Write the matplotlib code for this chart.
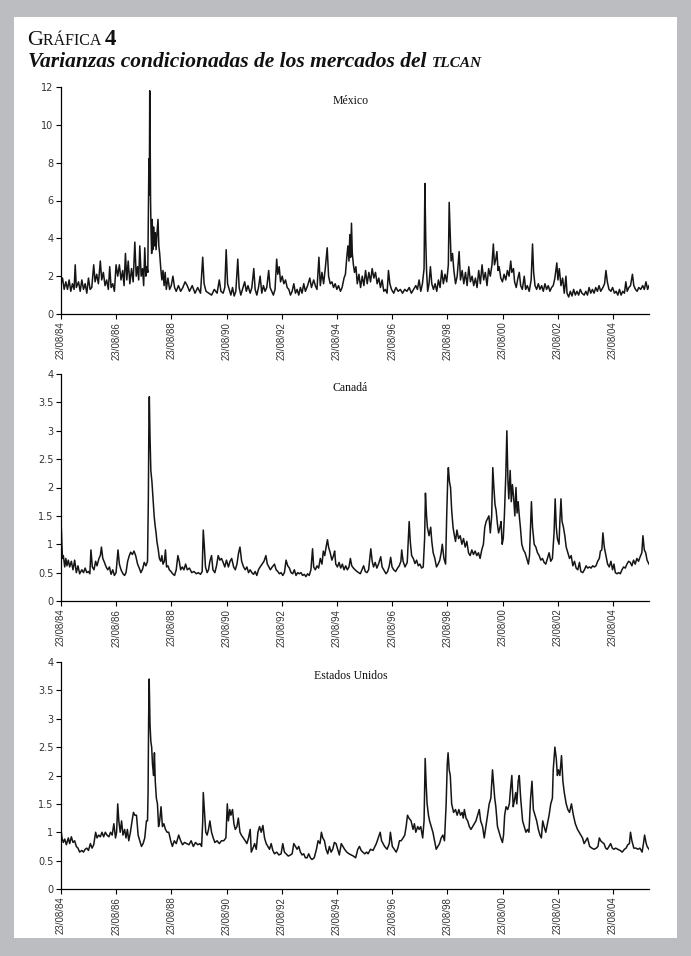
import matplotlib
matplotlib.use("Agg")
import matplotlib.pyplot as plt
from matplotlib.patches import Rectangle

# ---- data (decimal years, conditional variance) ----
mx_t = [1984.645, 1984.70, 1984.76, 1984.82, 1984.88, 1984.94, 1985.00, 1985.06, 1985.12, 1985.16,
        1985.20, 1985.28, 1985.34, 1985.40, 1985.46, 1985.52, 1985.58, 1985.64, 1985.70, 1985.76,
        1985.83, 1985.88, 1985.94, 1986.00, 1986.07, 1986.12, 1986.18, 1986.24, 1986.30, 1986.36,
        1986.41, 1986.46, 1986.52, 1986.58, 1986.64, 1986.70, 1986.76, 1986.82, 1986.88, 1986.93,
        1986.98, 1987.03, 1987.08, 1987.14, 1987.20, 1987.26, 1987.32, 1987.37, 1987.42, 1987.46,
        1987.50, 1987.55, 1987.60, 1987.64, 1987.68, 1987.72, 1987.76, 1987.79, 1987.81, 1987.83,
        1987.845, 1987.86, 1987.875, 1987.89, 1987.91, 1987.93, 1987.95, 1987.97, 1988.00, 1988.03,
        1988.06, 1988.09, 1988.12, 1988.16, 1988.19, 1988.22, 1988.26, 1988.30, 1988.34, 1988.38,
        1988.42, 1988.46, 1988.52, 1988.58, 1988.64, 1988.70, 1988.76, 1988.82, 1988.90, 1988.98,
        1989.06, 1989.14, 1989.22, 1989.30, 1989.40, 1989.50, 1989.60, 1989.70, 1989.78, 1989.83,
        1989.90, 1990.00, 1990.10, 1990.20, 1990.30, 1990.38, 1990.44, 1990.52, 1990.58, 1990.63,
        1990.68, 1990.74, 1990.80, 1990.86, 1990.92, 1990.98, 1991.05, 1991.10, 1991.16, 1991.22,
        1991.30, 1991.36, 1991.42, 1991.50, 1991.56, 1991.63, 1991.68, 1991.74, 1991.80, 1991.86,
        1991.92, 1991.98, 1992.04, 1992.10, 1992.17, 1992.22, 1992.28, 1992.34, 1992.40, 1992.46,
        1992.50, 1992.55, 1992.60, 1992.66, 1992.72, 1992.78, 1992.84, 1992.90, 1992.96, 1993.02,
        1993.08, 1993.14, 1993.20, 1993.26, 1993.32, 1993.38, 1993.44, 1993.50, 1993.58, 1993.66,
        1993.72, 1993.80, 1993.86, 1993.92, 1993.99, 1994.04, 1994.10, 1994.16, 1994.22, 1994.29,
        1994.34, 1994.40, 1994.46, 1994.52, 1994.58, 1994.64, 1994.70, 1994.77, 1994.83, 1994.90,
        1994.95, 1995.00, 1995.04, 1995.08, 1995.11, 1995.14, 1995.17, 1995.20, 1995.24, 1995.28,
        1995.33, 1995.38, 1995.44, 1995.50, 1995.56, 1995.62, 1995.68, 1995.74, 1995.80, 1995.86,
        1995.92, 1995.98, 1996.04, 1996.10, 1996.16, 1996.22, 1996.28, 1996.34, 1996.40, 1996.46,
        1996.51, 1996.56, 1996.62, 1996.70, 1996.78, 1996.86, 1996.94, 1997.02, 1997.10, 1997.18,
        1997.26, 1997.34, 1997.42, 1997.50, 1997.56, 1997.62, 1997.68, 1997.74, 1997.80, 1997.83,
        1997.86, 1997.89, 1997.93, 1997.98, 1998.03, 1998.08, 1998.14, 1998.20, 1998.26, 1998.32,
        1998.38, 1998.44, 1998.50, 1998.56, 1998.62, 1998.68, 1998.71, 1998.74, 1998.78, 1998.83,
        1998.88, 1998.94, 1999.00, 1999.07, 1999.12, 1999.18, 1999.24, 1999.30, 1999.36, 1999.42,
        1999.48, 1999.54, 1999.60, 1999.66, 1999.72, 1999.78, 1999.84, 1999.90, 1999.96, 2000.02,
        2000.08, 2000.14, 2000.20, 2000.26, 2000.31, 2000.35, 2000.40, 2000.44, 2000.48, 2000.52,
        2000.58, 2000.64, 2000.70, 2000.76, 2000.82, 2000.88, 2000.94, 2000.98, 2001.04, 2001.08,
        2001.14, 2001.20, 2001.25, 2001.30, 2001.36, 2001.43, 2001.48, 2001.54, 2001.61, 2001.68,
        2001.73, 2001.77, 2001.82, 2001.88, 2001.94, 2002.00, 2002.06, 2002.12, 2002.18, 2002.24,
        2002.30, 2002.36, 2002.42, 2002.48, 2002.54, 2002.61, 2002.65, 2002.70, 2002.76, 2002.82,
        2002.88, 2002.94, 2002.98, 2003.04, 2003.10, 2003.16, 2003.22, 2003.28, 2003.34, 2003.40,
        2003.46, 2003.52, 2003.60, 2003.66, 2003.72, 2003.78, 2003.84, 2003.90, 2003.96, 2004.02,
        2004.08, 2004.14, 2004.20, 2004.28, 2004.34, 2004.39, 2004.44, 2004.50, 2004.57, 2004.63,
        2004.70, 2004.76, 2004.82, 2004.88, 2004.94, 2005.00, 2005.06, 2005.11, 2005.16, 2005.22,
        2005.28, 2005.35, 2005.40, 2005.46, 2005.52, 2005.58, 2005.65, 2005.72, 2005.78, 2005.84,
        2005.90, 2005.95]
mx_v = [1.6, 1.9, 1.3, 1.7, 1.3, 1.8, 1.2, 1.6, 1.3, 2.6,
        1.4, 1.7, 1.2, 1.8, 1.3, 1.6, 1.1, 1.9, 1.3, 1.4,
        2.6, 1.7, 2.1, 1.6, 2.8, 1.8, 2.2, 1.5, 1.8, 1.3,
        2.5, 1.4, 1.6, 1.2, 2.6, 2.0, 2.6, 1.8, 2.3, 1.5,
        3.2, 1.8, 2.8, 1.6, 2.4, 1.7, 3.8, 2.0, 2.5, 1.8,
        3.6, 2.0, 2.4, 1.5, 3.5, 2.0, 2.5, 2.2, 5.2, 8.2,
        6.3, 11.8, 9.5, 6.0, 4.2, 3.2, 5.0, 3.4, 4.6, 3.6,
        4.3, 3.4, 4.2, 5.0, 3.6, 3.2, 2.4, 1.8, 2.3, 1.5,
        2.2, 1.3, 1.9, 1.3, 1.5, 2.0, 1.4, 1.2, 1.5, 1.2,
        1.4, 1.7, 1.5, 1.2, 1.5, 1.1, 1.4, 1.1, 3.0, 1.6,
        1.2, 1.1, 1.0, 1.3, 1.1, 1.8, 1.2, 1.1, 1.4, 3.4,
        1.6, 1.3, 1.0, 1.4, 0.95, 1.2, 2.9, 1.4, 1.0, 1.3,
        1.7, 1.2, 1.5, 1.1, 1.4, 2.4, 1.3, 1.0, 1.4, 2.0,
        1.1, 1.5, 1.2, 1.4, 2.3, 1.4, 1.2, 1.0, 1.3, 2.9,
        2.1, 2.5, 1.7, 2.0, 1.6, 1.8, 1.4, 1.3, 1.0, 1.2,
        1.6, 1.1, 1.3, 1.0, 1.4, 1.1, 1.6, 1.2, 1.5, 1.9,
        1.4, 1.8, 1.5, 1.3, 3.0, 1.5, 2.2, 1.6, 2.4, 3.5,
        2.0, 1.6, 1.7, 1.4, 1.6, 1.3, 1.5, 1.2, 1.4, 1.9,
        2.1, 3.0, 3.6, 2.8, 4.2, 3.0, 4.8, 3.2, 2.6, 2.2,
        2.5, 1.6, 2.1, 1.4, 2.0, 1.5, 2.3, 1.6, 2.2, 1.7,
        2.4, 1.9, 2.2, 1.6, 1.9, 1.4, 1.8, 1.2, 1.3, 1.1,
        2.3, 1.6, 1.3, 1.1, 1.4, 1.2, 1.3, 1.1, 1.3, 1.2,
        1.4, 1.1, 1.3, 1.5, 1.3, 1.8, 1.2, 1.6, 2.4, 6.9,
        4.0, 2.3, 1.2, 1.6, 2.5, 1.6, 1.3, 1.6, 1.2, 1.8,
        1.4, 2.3, 1.6, 2.1, 1.7, 2.6, 5.9, 4.6, 2.8, 3.2,
        2.3, 1.6, 2.0, 3.3, 1.8, 2.3, 1.6, 2.2, 1.5, 2.5,
        1.7, 2.0, 1.5, 1.9, 1.4, 2.3, 1.6, 2.6, 1.8, 2.2,
        1.5, 2.4, 2.0, 2.6, 3.7, 2.6, 2.9, 3.3, 2.3, 2.5,
        1.9, 1.7, 2.1, 1.8, 2.3, 2.0, 2.8, 2.2, 2.4, 1.7,
        1.4, 1.9, 2.2, 1.5, 1.3, 2.0, 1.3, 1.5, 1.2, 1.8,
        3.7, 2.2, 1.5, 1.3, 1.6, 1.3, 1.5, 1.2, 1.6, 1.3,
        1.5, 1.2, 1.4, 1.5, 1.9, 2.7, 1.8, 2.4, 1.5, 1.9,
        1.1, 2.0, 1.1, 0.9, 1.2, 0.95, 1.3, 1.0, 1.2, 1.0,
        1.3, 1.1, 1.0, 1.2, 1.0, 1.4, 1.1, 1.3, 1.1, 1.4,
        1.2, 1.5, 1.2, 1.4, 1.6, 2.3, 1.7, 1.3, 1.2, 1.4,
        1.1, 1.2, 1.0, 1.3, 1.0, 1.2, 1.1, 1.7, 1.2, 1.4,
        1.5, 2.1, 1.5, 1.3, 1.2, 1.4, 1.3, 1.5, 1.3, 1.7,
        1.3, 1.5]

ca_t = [1984.645, 1984.66, 1984.68, 1984.70, 1984.73, 1984.78, 1984.82, 1984.86, 1984.91, 1984.96,
        1985.02, 1985.08, 1985.14, 1985.20, 1985.26, 1985.32, 1985.40, 1985.46, 1985.52, 1985.58,
        1985.64, 1985.69, 1985.73, 1985.78, 1985.84, 1985.90, 1985.95, 1986.02, 1986.07, 1986.11,
        1986.16, 1986.22, 1986.28, 1986.34, 1986.40, 1986.46, 1986.52, 1986.58, 1986.64, 1986.71,
        1986.76, 1986.82, 1986.89, 1986.95, 1987.00, 1987.06, 1987.12, 1987.17, 1987.23, 1987.29,
        1987.35, 1987.42, 1987.48, 1987.54, 1987.60, 1987.66, 1987.72, 1987.78, 1987.81, 1987.83,
        1987.845, 1987.87, 1987.90, 1987.94, 1987.98, 1988.02, 1988.05, 1988.09, 1988.12, 1988.17,
        1988.21, 1988.26, 1988.30, 1988.34, 1988.39, 1988.43, 1988.47, 1988.52, 1988.57, 1988.63,
        1988.69, 1988.76, 1988.82, 1988.88, 1988.93, 1988.98, 1989.04, 1989.10, 1989.16, 1989.22,
        1989.30, 1989.38, 1989.46, 1989.55, 1989.62, 1989.70, 1989.76, 1989.80, 1989.84, 1989.88,
        1989.94, 1989.99, 1990.04, 1990.10, 1990.15, 1990.22, 1990.28, 1990.34, 1990.40, 1990.46,
        1990.52, 1990.58, 1990.64, 1990.71, 1990.77, 1990.83, 1990.90, 1990.96, 1991.02, 1991.08,
        1991.13, 1991.19, 1991.26, 1991.32, 1991.38, 1991.44, 1991.50, 1991.56, 1991.62, 1991.68,
        1991.74, 1991.80, 1991.86, 1991.93, 1992.00, 1992.07, 1992.12, 1992.18, 1992.23, 1992.30,
        1992.38, 1992.44, 1992.50, 1992.56, 1992.62, 1992.68, 1992.74, 1992.80, 1992.86, 1992.92,
        1992.98, 1993.04, 1993.10, 1993.16, 1993.22, 1993.28, 1993.34, 1993.40, 1993.46, 1993.52,
        1993.58, 1993.64, 1993.70, 1993.76, 1993.80, 1993.86, 1993.92, 1993.98, 1994.04, 1994.10,
        1994.15, 1994.20, 1994.25, 1994.30, 1994.34, 1994.40, 1994.46, 1994.52, 1994.56, 1994.60,
        1994.66, 1994.72, 1994.78, 1994.84, 1994.90, 1994.96, 1995.02, 1995.08, 1995.13, 1995.18,
        1995.24, 1995.30, 1995.37, 1995.43, 1995.49, 1995.55, 1995.61, 1995.67, 1995.73, 1995.79,
        1995.87, 1995.92, 1995.97, 1996.03, 1996.09, 1996.15, 1996.23, 1996.28, 1996.34, 1996.42,
        1996.48, 1996.54, 1996.59, 1996.64, 1996.70, 1996.77, 1996.84, 1996.90, 1996.96, 1996.99,
        1997.04, 1997.11, 1997.19, 1997.26, 1997.30, 1997.35, 1997.41, 1997.47, 1997.53, 1997.59,
        1997.65, 1997.71, 1997.77, 1997.82, 1997.85, 1997.89, 1997.92, 1997.98, 1998.04, 1998.08,
        1998.13, 1998.19, 1998.25, 1998.31, 1998.37, 1998.42, 1998.46, 1998.52, 1998.58, 1998.62,
        1998.66, 1998.68, 1998.72, 1998.76, 1998.80, 1998.85, 1998.90, 1998.94, 1998.99, 1999.05,
        1999.11, 1999.17, 1999.23, 1999.29, 1999.35, 1999.41, 1999.47, 1999.53, 1999.59, 1999.65,
        1999.71, 1999.77, 1999.83, 1999.89, 1999.95, 2000.00, 2000.05, 2000.10, 2000.15, 2000.20,
        2000.25, 2000.29, 2000.33, 2000.37, 2000.41, 2000.46, 2000.50, 2000.55, 2000.59, 2000.63,
        2000.67, 2000.71, 2000.76, 2000.80, 2000.84, 2000.87, 2000.92, 2000.96, 2001.00, 2001.04,
        2001.09, 2001.13, 2001.17, 2001.21, 2001.25, 2001.29, 2001.34, 2001.40, 2001.46, 2001.52,
        2001.58, 2001.62, 2001.69, 2001.73, 2001.79, 2001.85, 2001.91, 2001.97, 2002.03, 2002.09,
        2002.15, 2002.21, 2002.27, 2002.33, 2002.39, 2002.45, 2002.51, 2002.55, 2002.59, 2002.63,
        2002.69, 2002.72, 2002.76, 2002.80, 2002.85, 2002.90, 2002.95, 2003.01, 2003.07, 2003.13,
        2003.19, 2003.25, 2003.31, 2003.37, 2003.43, 2003.48, 2003.55, 2003.61, 2003.67, 2003.73,
        2003.79, 2003.85, 2003.91, 2003.97, 2004.03, 2004.09, 2004.15, 2004.19, 2004.24, 2004.28,
        2004.33, 2004.39, 2004.45, 2004.51, 2004.57, 2004.63, 2004.68, 2004.73, 2004.79, 2004.85,
        2004.91, 2004.97, 2005.03, 2005.09, 2005.15, 2005.21, 2005.27, 2005.33, 2005.39, 2005.45,
        2005.51, 2005.57, 2005.63, 2005.69, 2005.73, 2005.78, 2005.83, 2005.88, 2005.95]
ca_v = [1.4, 1.25, 0.95, 0.75, 0.8, 0.6, 0.75, 0.62, 0.72, 0.6,
        0.7, 0.55, 0.72, 0.5, 0.62, 0.48, 0.55, 0.5, 0.58, 0.5,
        0.52, 0.48, 0.9, 0.6, 0.55, 0.7, 0.62, 0.75, 0.8, 0.95,
        0.75, 0.68, 0.6, 0.55, 0.6, 0.47, 0.55, 0.45, 0.5, 0.9,
        0.65, 0.55, 0.48, 0.45, 0.5, 0.7, 0.8, 0.86, 0.82, 0.88,
        0.8, 0.65, 0.58, 0.5, 0.56, 0.68, 0.62, 0.7, 1.8, 3.2,
        3.6, 2.9, 2.3, 2.1, 1.8, 1.5, 1.35, 1.2, 1.05, 0.9,
        0.75, 0.7, 0.8, 0.65, 0.7, 0.9, 0.6, 0.62, 0.55, 0.52,
        0.48, 0.45, 0.55, 0.8, 0.7, 0.55, 0.6, 0.55, 0.65, 0.55,
        0.58, 0.5, 0.52, 0.48, 0.5, 0.47, 0.52, 1.25, 0.95, 0.6,
        0.5, 0.55, 0.7, 0.8, 0.55, 0.5, 0.62, 0.8, 0.72, 0.75,
        0.68, 0.6, 0.72, 0.6, 0.7, 0.75, 0.6, 0.55, 0.65, 0.85,
        0.95, 0.7, 0.6, 0.55, 0.6, 0.5, 0.55, 0.5, 0.47, 0.52,
        0.45, 0.55, 0.6, 0.65, 0.7, 0.8, 0.65, 0.6, 0.55, 0.6,
        0.65, 0.55, 0.52, 0.48, 0.5, 0.45, 0.5, 0.72, 0.62, 0.58,
        0.5, 0.48, 0.55, 0.45, 0.5, 0.48, 0.5, 0.45, 0.47, 0.43,
        0.48, 0.45, 0.55, 0.92, 0.6, 0.55, 0.62, 0.58, 0.75, 0.65,
        0.88, 0.8, 0.95, 1.08, 0.95, 0.85, 0.72, 0.8, 0.88, 0.65,
        0.6, 0.68, 0.58, 0.65, 0.55, 0.62, 0.55, 0.6, 0.75, 0.62,
        0.58, 0.55, 0.52, 0.5, 0.48, 0.55, 0.62, 0.52, 0.5, 0.55,
        0.92, 0.7, 0.6, 0.68, 0.58, 0.65, 0.78, 0.6, 0.55, 0.48,
        0.52, 0.62, 0.77, 0.6, 0.55, 0.52, 0.58, 0.62, 0.7, 0.9,
        0.7, 0.6, 0.68, 1.4, 1.05, 0.8, 0.75, 0.66, 0.72, 0.62,
        0.65, 0.58, 0.6, 1.1, 1.9, 1.5, 1.3, 1.15, 1.3, 1.05,
        0.85, 0.75, 0.6, 0.65, 0.72, 0.85, 1.0, 0.75, 0.65, 1.5,
        2.2, 2.35, 2.1, 2.0, 1.6, 1.3, 1.15, 1.05, 1.25, 1.1,
        1.15, 1.0, 1.1, 0.95, 1.05, 0.85, 0.8, 0.9, 0.82, 0.88,
        0.8, 0.85, 0.75, 0.9, 1.0, 1.3, 1.4, 1.45, 1.5, 1.2,
        1.5, 2.35, 2.0, 1.7, 1.6, 1.35, 1.2, 1.3, 1.4, 1.0,
        1.1, 1.5, 2.2, 3.0, 2.1, 1.8, 2.3, 1.75, 2.05, 1.85,
        1.5, 2.0, 1.55, 1.75, 1.5, 1.3, 1.0, 0.9, 0.85, 0.75,
        0.65, 0.8, 1.75, 1.3, 1.0, 0.95, 0.85, 0.8, 0.72, 0.75,
        0.68, 0.65, 0.75, 0.85, 0.7, 0.75, 1.2, 1.8, 1.3, 1.1,
        1.0, 1.4, 1.8, 1.4, 1.3, 1.15, 0.95, 0.85, 0.75, 0.8,
        0.62, 0.7, 0.58, 0.55, 0.68, 0.52, 0.5, 0.55, 0.62, 0.58,
        0.6, 0.58, 0.62, 0.6, 0.62, 0.7, 0.75, 0.88, 0.9, 1.2,
        0.95, 0.8, 0.65, 0.6, 0.7, 0.55, 0.65, 0.5, 0.48, 0.5,
        0.48, 0.55, 0.6, 0.58, 0.65, 0.7, 0.68, 0.62, 0.72, 0.65,
        0.75, 0.7, 0.78, 0.85, 1.15, 0.9, 0.85, 0.72, 0.65]

us_t = [1984.645, 1984.68, 1984.73, 1984.78, 1984.84, 1984.91, 1984.96, 1985.02, 1985.08, 1985.14,
        1985.20, 1985.26, 1985.32, 1985.40, 1985.46, 1985.52, 1985.58, 1985.64, 1985.71, 1985.77,
        1985.83, 1985.90, 1985.95, 1986.01, 1986.07, 1986.13, 1986.19, 1986.25, 1986.31, 1986.38,
        1986.44, 1986.50, 1986.56, 1986.62, 1986.66, 1986.70, 1986.74, 1986.79, 1986.84, 1986.89,
        1986.95, 1987.00, 1987.05, 1987.10, 1987.16, 1987.22, 1987.27, 1987.32, 1987.38, 1987.44,
        1987.50, 1987.56, 1987.62, 1987.68, 1987.74, 1987.78, 1987.80, 1987.82, 1987.84, 1987.87,
        1987.90, 1987.93, 1987.96, 1988.00, 1988.03, 1988.06, 1988.10, 1988.14, 1988.18, 1988.22,
        1988.27, 1988.32, 1988.37, 1988.43, 1988.49, 1988.55, 1988.62, 1988.68, 1988.75, 1988.82,
        1988.91, 1988.98, 1989.05, 1989.12, 1989.20, 1989.28, 1989.36, 1989.44, 1989.52, 1989.60,
        1989.68, 1989.74, 1989.78, 1989.80, 1989.84, 1989.89, 1989.94, 1989.99, 1990.04, 1990.10,
        1990.16, 1990.22, 1990.30, 1990.38, 1990.46, 1990.54, 1990.62, 1990.67, 1990.71, 1990.76,
        1990.80, 1990.86, 1990.91, 1990.96, 1991.02, 1991.07, 1991.13, 1991.18, 1991.25, 1991.32,
        1991.38, 1991.44, 1991.50, 1991.54, 1991.60, 1991.66, 1991.72, 1991.78, 1991.84, 1991.90,
        1991.96, 1992.02, 1992.08, 1992.14, 1992.20, 1992.26, 1992.32, 1992.38, 1992.46, 1992.54,
        1992.62, 1992.68, 1992.74, 1992.80, 1992.88, 1992.96, 1993.02, 1993.08, 1993.14, 1993.20,
        1993.26, 1993.32, 1993.38, 1993.44, 1993.50, 1993.56, 1993.62, 1993.68, 1993.74, 1993.82,
        1993.90, 1993.96, 1994.03, 1994.08, 1994.13, 1994.19, 1994.25, 1994.31, 1994.37, 1994.43,
        1994.49, 1994.55, 1994.61, 1994.67, 1994.73, 1994.80, 1994.86, 1994.92, 1995.00, 1995.08,
        1995.16, 1995.24, 1995.32, 1995.40, 1995.46, 1995.52, 1995.58, 1995.65, 1995.72, 1995.77,
        1995.86, 1995.95, 1996.02, 1996.07, 1996.14, 1996.21, 1996.26, 1996.37, 1996.46, 1996.54,
        1996.58, 1996.65, 1996.72, 1996.79, 1996.85, 1996.91, 1996.97, 1997.04, 1997.10, 1997.15,
        1997.20, 1997.25, 1997.33, 1997.40, 1997.45, 1997.50, 1997.57, 1997.62, 1997.68, 1997.75,
        1997.80, 1997.84, 1997.88, 1997.91, 1997.96, 1998.00, 1998.06, 1998.12, 1998.18, 1998.24,
        1998.30, 1998.36, 1998.42, 1998.48, 1998.54, 1998.60, 1998.64, 1998.67, 1998.71, 1998.75,
        1998.80, 1998.87, 1998.94, 1999.00, 1999.06, 1999.12, 1999.18, 1999.22, 1999.26, 1999.32,
        1999.38, 1999.44, 1999.50, 1999.56, 1999.62, 1999.68, 1999.74, 1999.80, 1999.85, 1999.92,
        1999.98, 2000.04, 2000.10, 2000.16, 2000.22, 2000.28, 2000.32, 2000.36, 2000.40, 2000.46,
        2000.52, 2000.58, 2000.64, 2000.68, 2000.72, 2000.77, 2000.83, 2000.89, 2000.94, 2000.98,
        2001.03, 2001.07, 2001.12, 2001.16, 2001.21, 2001.25, 2001.30, 2001.37, 2001.43, 2001.49,
        2001.55, 2001.60, 2001.66, 2001.71, 2001.76, 2001.82, 2001.88, 2001.94, 2002.00, 2002.05,
        2002.10, 2002.15, 2002.21, 2002.27, 2002.33, 2002.39, 2002.45, 2002.48, 2002.54, 2002.59,
        2002.63, 2002.67, 2002.72, 2002.78, 2002.83, 2002.88, 2002.95, 2003.01, 2003.07, 2003.14,
        2003.21, 2003.28, 2003.36, 2003.42, 2003.48, 2003.54, 2003.60, 2003.66, 2003.72, 2003.80,
        2003.88, 2003.96, 2004.04, 2004.10, 2004.15, 2004.20, 2004.26, 2004.32, 2004.38, 2004.44,
        2004.50, 2004.56, 2004.62, 2004.68, 2004.74, 2004.82, 2004.90, 2004.98, 2005.06, 2005.12,
        2005.18, 2005.24, 2005.28, 2005.33, 2005.40, 2005.48, 2005.55, 2005.62, 2005.70, 2005.75,
        2005.79, 2005.84, 2005.88, 2005.95]
us_v = [1.05, 0.9, 0.82, 0.88, 0.78, 0.9, 0.8, 0.92, 0.82, 0.85,
        0.75, 0.72, 0.65, 0.68, 0.65, 0.7, 0.72, 0.68, 0.8, 0.72,
        0.78, 1.0, 0.9, 0.95, 0.92, 1.0, 0.92, 1.0, 0.95, 0.92,
        1.0, 0.95, 1.15, 0.9, 1.0, 1.5, 1.2, 1.0, 1.2, 0.95,
        1.05, 0.9, 1.05, 0.85, 1.0, 1.2, 1.35, 1.3, 1.3, 0.95,
        0.85, 0.75, 0.8, 0.9, 1.2, 1.2, 1.7, 3.0, 3.7, 2.9,
        2.6, 2.5, 2.2, 2.0, 2.4, 1.9, 1.6, 1.5, 1.1, 1.2,
        1.45, 1.1, 1.15, 1.05, 1.0, 1.0, 0.85, 0.75, 0.85, 0.8,
        0.95, 0.85, 0.78, 0.82, 0.8, 0.78, 0.85, 0.75, 0.82, 0.78,
        0.8, 0.75, 1.2, 1.7, 1.4, 1.0, 0.95, 1.05, 1.2, 1.0,
        0.9, 0.82, 0.85, 0.8, 0.85, 0.85, 0.9, 1.5, 1.2, 1.4,
        1.3, 1.4, 1.15, 1.05, 1.1, 1.25, 1.0, 0.95, 0.9, 0.85,
        0.8, 0.9, 1.05, 0.65, 0.72, 0.8, 0.7, 1.0, 1.1, 1.0,
        1.12, 0.9, 0.8, 0.75, 0.7, 0.8, 0.68, 0.62, 0.65, 0.6,
        0.62, 0.8, 0.65, 0.62, 0.58, 0.6, 0.62, 0.8, 0.75, 0.7,
        0.75, 0.65, 0.6, 0.62, 0.55, 0.55, 0.62, 0.55, 0.52, 0.55,
        0.7, 0.85, 0.8, 1.0, 0.9, 0.85, 0.7, 0.62, 0.75, 0.65,
        0.7, 0.82, 0.8, 0.7, 0.6, 0.8, 0.75, 0.7, 0.65, 0.62,
        0.6, 0.58, 0.55, 0.7, 0.75, 0.68, 0.65, 0.62, 0.65, 0.62,
        0.7, 0.68, 0.75, 0.8, 0.9, 1.0, 0.85, 0.75, 0.7, 0.8,
        1.0, 0.75, 0.7, 0.65, 0.72, 0.85, 0.85, 0.9, 0.95, 1.1,
        1.3, 1.25, 1.2, 1.05, 1.15, 1.0, 1.1, 1.05, 1.1, 0.9,
        1.2, 2.3, 1.8, 1.5, 1.3, 1.2, 1.1, 1.0, 0.85, 0.7,
        0.75, 0.8, 0.9, 0.95, 0.85, 1.5, 2.2, 2.4, 2.1, 2.0,
        1.5, 1.35, 1.4, 1.3, 1.4, 1.3, 1.35, 1.25, 1.4, 1.25,
        1.2, 1.1, 1.05, 1.1, 1.15, 1.2, 1.3, 1.4, 1.2, 1.1,
        0.9, 1.1, 1.3, 1.5, 1.6, 2.1, 1.85, 1.6, 1.45, 1.1,
        1.0, 0.9, 0.82, 0.95, 1.3, 1.45, 1.4, 1.5, 1.8, 2.0,
        1.45, 1.55, 1.7, 1.5, 1.9, 2.0, 1.6, 1.2, 1.1, 1.0,
        1.05, 1.0, 1.6, 1.9, 1.4, 1.3, 1.2, 1.05, 0.95, 0.9,
        1.2, 1.1, 1.0, 1.15, 1.3, 1.5, 1.6, 2.1, 2.5, 2.3,
        2.0, 2.1, 2.0, 2.35, 1.9, 1.7, 1.5, 1.4, 1.35, 1.5,
        1.3, 1.15, 1.05, 1.0, 0.95, 0.9, 0.8, 0.85, 0.9, 0.75,
        0.72, 0.7, 0.72, 0.75, 0.9, 0.85, 0.82, 0.8, 0.72, 0.7,
        0.75, 0.8, 0.72, 0.7, 0.72, 0.7, 0.68, 0.65, 0.7, 0.72,
        0.78, 0.8, 1.0, 0.85, 0.72, 0.72, 0.7, 0.72, 0.65, 0.8,
        0.95, 0.82, 0.75, 0.7]

panel_names = ["México", "Canadá", "Estados Unidos"]
tick_years = [1984.645 + 2 * k for k in range(11)]
tick_labels = ["23/08/84", "23/08/86", "23/08/88", "23/08/90", "23/08/92", "23/08/94",
               "23/08/96", "23/08/98", "23/08/00", "23/08/02", "23/08/04"]
mx_yticks = [0, 2, 4, 6, 8, 10, 12]
small_yticks = [0, 0.5, 1, 1.5, 2, 2.5, 3, 3.5, 4]

fig = plt.figure(figsize=(6.91, 9.56), dpi=100)
fig.patch.set_facecolor("#bcbdc1")
fig.patches.append(Rectangle((14 / 691, 18 / 956), 663 / 691, 921 / 956,
                             transform=fig.transFigure, facecolor="white",
                             edgecolor="none", zorder=-5))

serif = ["Liberation Serif", "DejaVu Serif"]
narrow = ["Liberation Sans Narrow", "Liberation Sans", "DejaVu Sans"]


def draw_pieces(x, y, pieces):
    # write text pieces one after another (fake small caps)
    fig.canvas.draw()
    r = fig.canvas.get_renderer()
    for txt, size, weight, style in pieces:
        t = fig.text(x, y, txt, fontsize=size, fontweight=weight, fontstyle=style,
                     family=serif, color="#111111", va="baseline", ha="left")
        bb = t.get_window_extent(renderer=r)
        x += bb.width / fig.bbox.width


draw_pieces(27 / 691, 1 - 45 / 956, [("G", 16, "normal", "normal"),
                                     ("RÁFICA ", 11.5, "normal", "normal"),
                                     ("4", 16.5, "bold", "normal")])
draw_pieces(28 / 691, 1 - 67 / 956, [("Varianzas condicionadas de los mercados del ", 15.5, "bold", "italic"),
                                     ("TLCAN", 11, "bold", "italic")])

series = [(mx_t, mx_v, mx_yticks, 12, 314), (ca_t, ca_v, small_yticks, 4, 601),
          (us_t, us_v, small_yticks, 4, 889)]
ax_h = 227 / 956
for i, (t, v, yt, ytop, ybot) in enumerate(series):
    ax = fig.add_axes([61 / 691, 1 - ybot / 956, 588 / 691, ax_h])
    ax.plot(t, v, color="#151515", lw=1.1)
    ax.set_xlim(1984.645, 2005.95)
    ax.set_ylim(0, ytop)
    ax.set_yticks(yt)
    ax.set_yticklabels([f"{y:g}" for y in yt], family="DejaVu Sans", fontsize=7, color="#333333")
    ax.set_xticks(tick_years)
    ax.set_xticklabels(tick_labels, rotation=90, family=narrow, fontsize=7, color="#333333")
    ax.tick_params(axis="both", direction="out", length=3.5, width=0.8, color="black", pad=2)
    for s in ["top", "right"]:
        ax.spines[s].set_visible(False)
    for s in ["left", "bottom"]:
        ax.spines[s].set_linewidth(0.9)
    ax.set_facecolor("none")
    ax.text(0.492, 0.94, panel_names[i], transform=ax.transAxes, ha="center", va="center",
            family=serif, fontsize=8.5, color="#111111")

fig.savefig("out.png", dpi=100, facecolor=fig.get_facecolor())
